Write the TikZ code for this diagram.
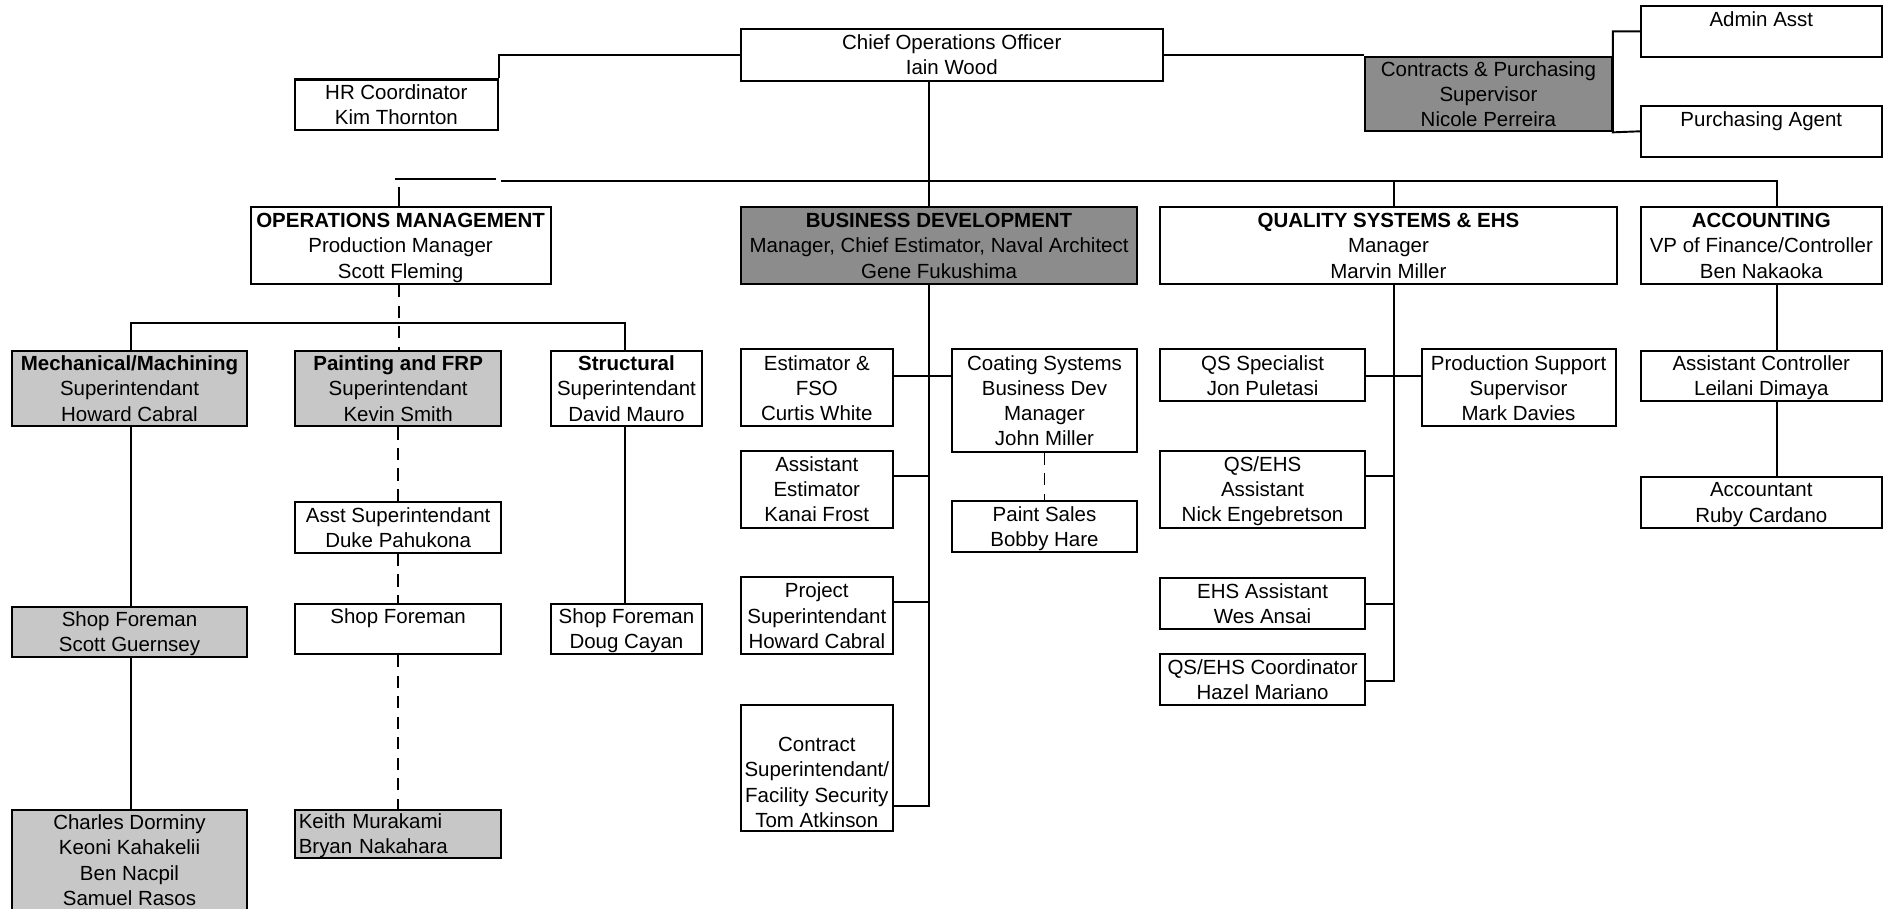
\documentclass[tikz,border=0pt]{standalone}
\usepackage{fontspec}
\setmainfont{Liberation Sans}
\definecolor{halfdark}{gray}{0.55}
\definecolor{halflight}{gray}{0.78}
\newcommand{\lastln}[1]{\smash{#1}}
\begin{document}
\begin{tikzpicture}[x=1pt,y=-1pt,
  box/.style={draw,line width=1.7pt,fill=white,align=center,inner sep=0pt,font=\fontsize{17}{21}\selectfont},
  dk/.style={box,fill=halfdark},
  lt/.style={box,fill=halflight},
  wh/.style 2 args={minimum width=#1pt,minimum height=#2pt},
  link/.style={line width=1.6pt},
  dlink/.style={line width=1.6pt,dash pattern=on 10pt off 7pt}]
\useasboundingbox (0,0) rectangle (1568,754);
% top level
\node[box,wh={350}{43}] (coo) at (790,45.5) {Chief Operations Officer\\\lastln{Iain Wood}};
\node[box,wh={168}{42}] (hr) at (329,87) {HR Coordinator\\\lastln{Kim Thornton}};
\node[dk,wh={205}{62}] (cp) at (1235.5,78) {Contracts \& Purchasing\\Supervisor\\\lastln{Nicole Perreira}};
\node[box,wh={200}{42}] (admin) at (1462,26) {Admin Asst\\\mbox{}};
\node[box,wh={200}{42}] (purch) at (1462,109) {Purchasing Agent\\\mbox{}};
% departments
\node[box,wh={249}{64}] (ops) at (332.5,204) {\textbf{OPERATIONS MANAGEMENT}\\Production Manager\\\lastln{Scott Fleming}};
\node[dk,wh={329}{64}] (bd) at (779.5,204) {\textbf{BUSINESS DEVELOPMENT}\\Manager, Chief Estimator, Naval Architect\\\lastln{Gene Fukushima}};
\node[box,wh={379}{64}] (qs) at (1152.5,204) {\textbf{QUALITY SYSTEMS \& EHS}\\Manager\\\lastln{Marvin Miller}};
\node[box,wh={200}{64}] (acc) at (1462,204) {\textbf{ACCOUNTING}\\VP of Finance/Controller\\\lastln{Ben Nakaoka}};
% operations
\node[lt,wh={195}{63}] (mech) at (107.5,322.5) {\textbf{Mechanical/Machining}\\Superintendant\\\lastln{Howard Cabral}};
\node[lt,wh={171}{63}] (paint) at (330.5,322.5) {\textbf{Painting and FRP}\\Superintendant\\\lastln{Kevin Smith}};
\node[box,wh={126}{63}] (struct) at (520,322.5) {\textbf{Structural}\\Superintendant\\\lastln{David Mauro}};
\node[box,wh={171}{42}] (asst) at (330.5,438) {Asst Superintendant\\\lastln{Duke Pahukona}};
\node[box,wh={171}{42}] (sfp) at (330.5,522) {Shop Foreman\\\mbox{}};
\node[lt,wh={195}{41}] (sfm) at (107.5,524.5) {Shop Foreman\\\lastln{Scott Guernsey}};
\node[box,wh={126}{42}] (sfs) at (520,522) {Shop Foreman\\\lastln{Doug Cayan}};
\node[lt,wh={195}{84}] (crew) at (107.5,714) {Charles Dorminy\\Keoni Kahakelii\\Ben Nacpil\\\lastln{Samuel Rasos}};
\node[lt,align=left,text width=165pt,inner xsep=3pt,minimum height=40pt] (keith) at (330.5,692) {Keith Murakami\\\lastln{Bryan Nakahara}};
% business development
\node[box,wh={126}{64}] (est) at (678,322) {Estimator \&\\FSO\\\lastln{Curtis White}};
\node[box,wh={154}{85}] (coat) at (867,332.5) {Coating Systems\\Business Dev\\Manager\\\lastln{John Miller}};
\node[box,wh={126}{64}] (aest) at (678,406) {Assistant\\Estimator\\\lastln{Kanai Frost}};
\node[box,wh={154}{42}] (psales) at (867,437) {Paint Sales\\\lastln{Bobby Hare}};
\node[box,wh={126}{64}] (proj) at (678,511) {Project\\Superintendant\\\lastln{Howard Cabral}};
\node[box,wh={126}{105}] (contract) at (678,637.5) {\strut\\Contract\\Superintendant/\\Facility Security\\\lastln{Tom Atkinson}};
% quality systems
\node[box,wh={170}{43}] (qss) at (1048,311.5) {QS Specialist\\\lastln{Jon Puletasi}};
\node[box,wh={161}{64}] (pss) at (1260.5,322) {Production Support\\Supervisor\\\lastln{Mark Davies}};
\node[box,wh={170}{64}] (qsea) at (1048,406) {QS/EHS\\Assistant\\\lastln{Nick Engebretson}};
\node[box,wh={170}{42}] (ehsa) at (1048,501) {EHS Assistant\\\lastln{Wes Ansai}};
\node[box,wh={170}{42}] (qsec) at (1048,564) {QS/EHS Coordinator\\\lastln{Hazel Mariano}};
% accounting
\node[box,wh={200}{42}] (actl) at (1462,312) {Assistant Controller\\\lastln{Leilani Dimaya}};
\node[box,wh={200}{42}] (acct) at (1462,417) {Accountant\\\lastln{Ruby Cardano}};
% helper coordinates
\coordinate (busL) at (416,150.5);
\coordinate (stubL) at (328,148.5);
\coordinate (stubR) at (412,148.5);
\coordinate (opsstub) at (331,155);
\coordinate (opsbus) at (331,268);
\coordinate (bdx) at (771,150.5);
\coordinate (bdend) at (771,669);
\coordinate (qsx) at (1157,150.5);
\coordinate (qsend) at (1157,565);
\coordinate (accx) at (1475,150.5);
% connectors top
\draw[link] (coo.west) -| (hr.north east);
\draw[link] (coo.east) -- (coo.east -| cp.west);
\draw[link] (admin.west) -| (cp.south east) -- (purch.west);
\draw[link] (busL) -- (accx) -- (accx |- acc.north);
\draw[link] (qsx) -- (qsx |- qs.north);
\draw[link] (coo.south -| bdx) -- (bd.north -| bdx);
\draw[link] (stubL) -- (stubR);
\draw[link] (opsstub) -- (opsstub |- ops.north);
% operations
\draw[dlink] (ops.south -| opsbus) -- (opsbus |- paint.north);
\draw[link] (mech.north -| 109,0) |- (opsbus) -| (struct.north -| 519,0);
\draw[link] (mech.south -| 109,0) -- (sfm.north -| 109,0);
\draw[link] (sfm.south -| 109,0) -- (crew.north -| 109,0);
\draw[dlink] (paint.south) -- (asst.north);
\draw[dlink] (asst.south) -- (sfp.north);
\draw[dlink] (sfp.south) -- (keith.north);
\draw[link] (struct.south -| 519,0) -- (sfs.north -| 519,0);
% business development
\draw[link] (bd.south -| bdend) -- (bdend) -- (bdend -| contract.east);
\draw[link] (est.east |- 0,312) -- (coat.west |- 0,312);
\draw[link] (aest.east |- 0,395) -- (bdx |- 0,395);
\draw[link] (proj.east |- 0,500) -- (bdx |- 0,500);
\draw[dlink] (coat.south) -- (psales.north);
% quality systems
\draw[link] (qs.south -| qsend) -- (qsend) -- (qsend -| qsec.east);
\draw[link] (qss.east |- 0,312) -- (pss.west |- 0,312);
\draw[link] (qsea.east |- 0,395) -- (qsx |- 0,395);
\draw[link] (ehsa.east) -- (ehsa.east -| qsx);
% accounting
\draw[link] (acc.south -| accx) -- (actl.north -| accx);
\draw[link] (actl.south -| accx) -- (acct.north -| accx);
\end{tikzpicture}
\end{document}
